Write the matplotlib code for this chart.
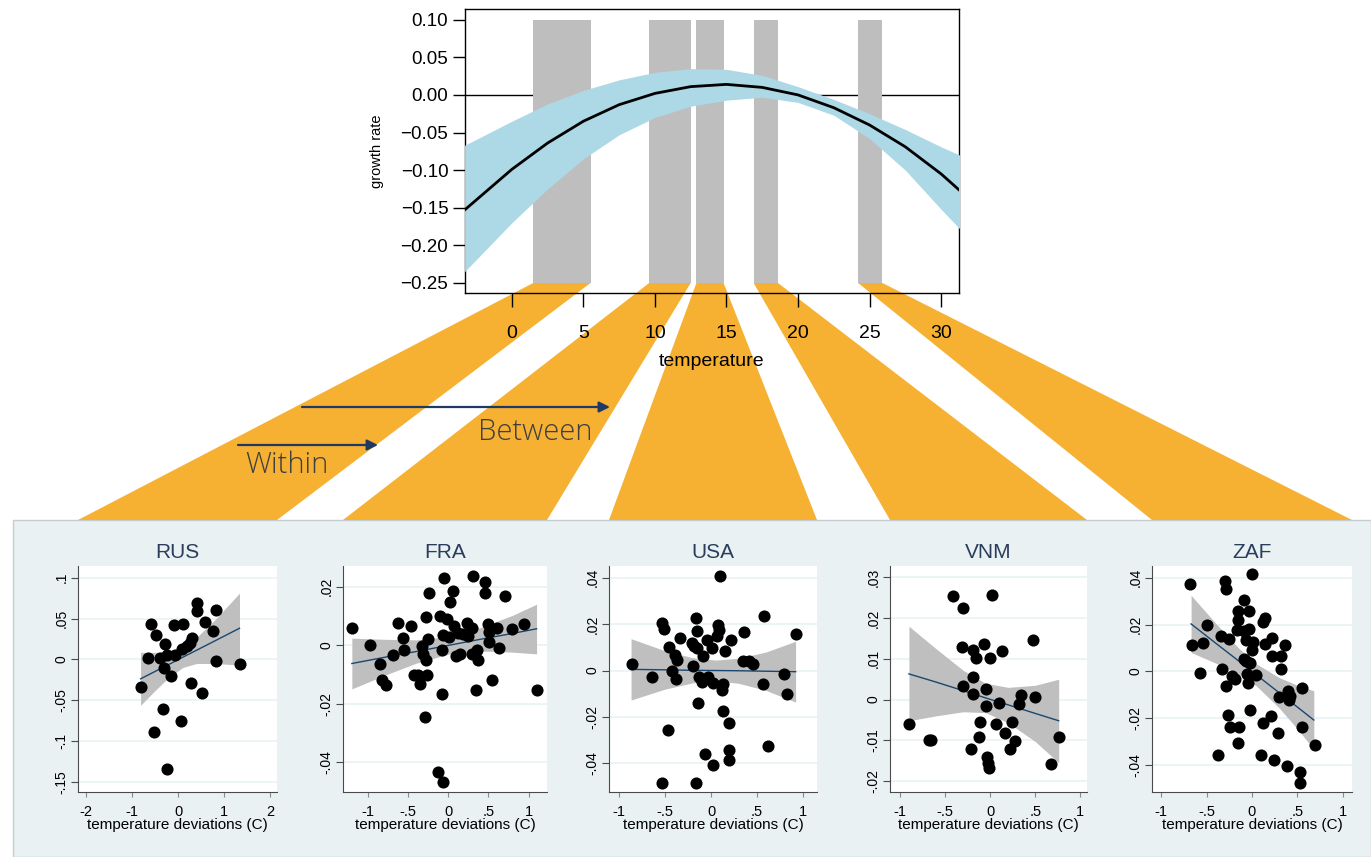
import matplotlib
matplotlib.use("Agg")
import matplotlib.pyplot as plt
from matplotlib.patches import Polygon, Rectangle, FancyArrowPatch

plt.rcParams['font.family'] = ['Liberation Sans', 'DejaVu Sans']

# --- global response function (top panel) ---
temp = [-3.3, 0, 2.5, 5, 7.5, 10, 12.5, 15, 17.5, 20, 22.5, 25, 27.5, 30, 31.3]
growth = [-0.153, -0.099, -0.064, -0.035, -0.013, 0.002, 0.011, 0.014, 0.010,
          0.000, -0.017, -0.040, -0.069, -0.105, -0.127]
growth_hi = [-0.067, -0.035, -0.012, 0.006, 0.020, 0.030, 0.035, 0.034, 0.026,
             0.011, -0.006, -0.025, -0.046, -0.069, -0.080]
growth_lo = [-0.235, -0.170, -0.125, -0.085, -0.053, -0.030, -0.015, -0.007, -0.003,
             -0.010, -0.027, -0.058, -0.100, -0.152, -0.178]

# temperature ranges of the five countries (left, right)
country_ranges = [(1.5, 5.5), (9.6, 12.5), (12.9, 14.8), (16.9, 18.6), (24.2, 25.9)]
top_xticks = [0, 5, 10, 15, 20, 25, 30]
top_yticks = [0.10, 0.05, 0.00, -0.05, -0.10, -0.15, -0.20, -0.25]

# --- country panels: (deviation, growth) points ---
countries = ['RUS', 'FRA', 'USA', 'VNM', 'ZAF']

rus_points = [(-0.80, -0.0332), (-0.60, 0.0439), (-0.65, 0.0016), (-0.49, 0.0303),
              (-0.29, 0.0189), (-0.40, 0.0016), (-0.25, 0.0057), (-0.31, -0.0107),
              (-0.15, -0.0209), (-0.07, 0.0057), (-0.09, 0.0418), (0.11, 0.0439),
              (0.09, 0.0127), (0.18, 0.0160), (0.25, 0.0201), (0.29, 0.0262),
              (0.28, -0.0283), (0.40, 0.0693), (0.40, 0.0590), (0.51, -0.0414),
              (0.58, 0.0455), (0.76, 0.0344), (0.82, 0.0602), (0.82, -0.0025),
              (1.33, -0.0053), (-0.34, -0.0611), (-0.53, -0.0885), (0.06, -0.0754),
              (-0.25, -0.1336)]
fra_points = [(-1.20, 0.0057), (-0.97, 0.0002), (-0.85, -0.0066), (-0.82, -0.0120),
              (-0.77, -0.0138), (-0.69, -0.0034), (-0.63, 0.0077), (-0.56, 0.0025),
              (-0.55, -0.0015), (-0.46, 0.0067), (-0.43, -0.0103), (-0.375, -0.0103),
              (-0.35, -0.0133), (-0.33, -0.0003), (-0.31, -0.0032), (-0.28, -0.0050),
              (-0.28, 0.0096), (-0.27, -0.0103), (-0.29, -0.0247), (-0.24, 0.0180),
              (-0.25, 0.0020), (-0.10, 0.0100), (-0.08, -0.0017), (-0.08, -0.0166),
              (-0.06, 0.0033), (-0.05, 0.0230), (-0.125, -0.0435), (-0.06, -0.0470),
              (-0.01, 0.0090), (0.01, 0.0029), (0.02, 0.0147), (0.06, 0.0187),
              (0.07, 0.0067), (0.10, -0.0038), (0.125, 0.0042), (0.15, -0.0029),
              (0.19, 0.0037), (0.24, 0.0077), (0.25, 0.0031), (0.29, -0.0029),
              (0.30, 0.0057), (0.31, 0.0237), (0.34, -0.0152), (0.36, -0.0017),
              (0.375, -0.0051), (0.46, 0.0216), (0.46, 0.0180), (0.50, 0.0074),
              (0.51, 0.0045), (0.51, 0.0011), (0.54, -0.0120), (0.61, 0.0057),
              (0.63, -0.0009), (0.71, 0.0168), (0.79, 0.0054), (0.94, 0.0073),
              (1.10, -0.0152)]
usa_points = [(-0.865, 0.0027), (-0.64, -0.0030), (-0.53, 0.0205), (-0.51, 0.0180),
              (-0.465, -0.0254), (-0.455, 0.0101), (-0.42, 0.0000), (-0.39, 0.0068),
              (-0.38, -0.0038), (-0.37, 0.0046), (-0.34, 0.0140), (-0.21, 0.0118),
              (-0.20, 0.0020), (-0.16, 0.0227), (-0.156, 0.0169), (-0.156, 0.0097),
              (-0.14, -0.0139), (-0.127, -0.0030), (-0.10, -0.0048), (-0.09, 0.0064),
              (-0.065, -0.0360), (-0.047, 0.0133), (-0.036, -0.0026), (0.007, 0.0097),
              (0.025, -0.0055), (0.025, -0.0406), (0.062, 0.0150), (0.08, 0.0198),
              (0.087, 0.0176), (0.098, 0.0407), (0.116, -0.0084), (0.127, -0.0059),
              (0.127, -0.0175), (0.156, 0.0082), (0.20, -0.0228), (0.20, -0.0341),
              (0.20, -0.0387), (0.215, 0.0133), (0.36, 0.0165), (0.353, 0.0042),
              (0.41, 0.0039), (0.455, 0.0029), (0.58, 0.0234), (0.57, -0.0058),
              (0.62, -0.0326), (0.79, -0.0014), (0.83, -0.0103), (0.92, 0.0159),
              (-0.53, -0.0484), (-0.164, -0.0484), (-0.19, 0.0104)]
vnm_points = [(-0.90, -0.0060), (-0.674, -0.0099), (-0.655, -0.0099), (-0.41, 0.0255),
              (-0.296, 0.0225), (-0.307, 0.0130), (-0.30, 0.0033), (-0.215, -0.0121),
              (-0.193, 0.0122), (-0.159, 0.0101), (-0.185, 0.0055), (-0.193, 0.0014),
              (-0.11, -0.0056), (-0.122, -0.0092), (-0.067, 0.0137), (-0.048, 0.0025),
              (-0.048, -0.0016), (-0.037, -0.0141), (-0.026, -0.0155), (-0.011, -0.0168),
              (0.0, 0.0101), (0.026, 0.0257), (0.063, -0.0061), (0.10, -0.0009),
              (0.13, 0.0119), (0.167, -0.0083), (0.215, -0.0121), (0.24, -0.0056),
              (0.28, -0.0102), (0.315, -0.0011), (0.34, 0.0012), (0.474, 0.0146),
              (0.50, 0.0006), (0.678, -0.0158), (0.76, -0.0092)]
zaf_points = [(-0.68, 0.0375), (-0.66, 0.0114), (-0.544, 0.0123), (-0.496, 0.0198),
              (-0.577, -0.0007), (-0.379, -0.0355), (-0.338, 0.0152), (-0.33, 0.0010),
              (-0.30, 0.0386), (-0.283, 0.0350), (-0.283, -0.0062), (-0.265, -0.0185),
              (-0.257, 0.0140), (-0.246, -0.0235), (-0.22, -0.0019), (-0.184, -0.0033),
              (-0.165, 0.0179), (-0.158, 0.0256), (-0.154, 0.0220), (-0.158, -0.0303),
              (-0.147, -0.0235), (-0.085, 0.0306), (-0.085, 0.0172), (-0.092, 0.0053),
              (-0.066, 0.0133), (-0.066, 0.0046), (-0.055, -0.0012), (-0.048, -0.0048),
              (-0.037, 0.0256), (-0.029, 0.0183), (-0.026, 0.0035), (-0.018, -0.0166),
              (0.0, 0.0414), (0.007, 0.0126), (0.0, 0.0090), (0.048, -0.0014),
              (0.099, -0.0355), (0.118, -0.0221), (0.125, 0.0212), (0.147, 0.0227),
              (0.14, 0.0116), (0.21, -0.0189), (0.22, 0.0144), (0.22, 0.0068),
              (0.239, -0.0377), (0.287, -0.0261), (0.294, -0.0108), (0.324, 0.0068),
              (0.32, 0.0010), (0.36, 0.0114), (0.386, -0.0401), (0.397, -0.0084),
              (0.404, -0.0120), (0.415, -0.0103), (0.533, -0.0430), (0.533, -0.0474),
              (0.555, -0.0069), (0.551, -0.0235), (0.69, -0.0312)]

# linear fits with confidence bands: x, fit, lower, upper
rus_fit = ([-0.82, -0.5, -0.2, 0.1, 0.4, 0.8, 1.33],
           [-0.0238, -0.0146, -0.0060, 0.0027, 0.0113, 0.0228, 0.0381],
           [-0.0562, -0.0378, -0.0218, -0.0098, -0.0050, -0.0050, -0.0070],
           [0.0086, 0.0086, 0.0098, 0.0152, 0.0271, 0.0487, 0.0811])
fra_fit = ([-1.2, -0.8, -0.4, 0.0, 0.4, 0.8, 1.1],
           [-0.0063, -0.0042, -0.0022, -0.0001, 0.0020, 0.0040, 0.0056],
           [-0.0150, -0.0104, -0.0062, -0.0031, -0.0020, -0.0024, -0.0030],
           [0.0024, 0.0020, 0.0018, 0.0029, 0.0060, 0.0102, 0.0140])
usa_fit = ([-0.87, -0.5, -0.2, 0.05, 0.3, 0.6, 0.92],
           [0.0005, 0.0003, 0.0001, 0.0, -0.0001, -0.0003, -0.0005],
           [-0.0127, -0.0080, -0.0053, -0.0045, -0.0055, -0.0086, -0.0136],
           [0.0137, 0.0085, 0.0055, 0.0045, 0.0053, 0.0080, 0.0126])
vnm_fit = ([-0.9, -0.6, -0.3, -0.05, 0.2, 0.5, 0.76],
           [0.0063, 0.0043, 0.0022, 0.0004, -0.0013, -0.0034, -0.0052],
           [-0.0052, -0.0040, -0.0030, -0.0032, -0.0057, -0.0103, -0.0155],
           [0.0180, 0.0125, 0.0072, 0.0040, 0.0030, 0.0035, 0.0050])
zaf_fit = ([-0.67, -0.4, -0.15, 0.05, 0.3, 0.5, 0.68],
           [0.0203, 0.0121, 0.0046, -0.0015, -0.0091, -0.0152, -0.0207],
           [0.0081, 0.0036, -0.0009, -0.0062, -0.0156, -0.0245, -0.0332],
           [0.0325, 0.0206, 0.0101, 0.0032, -0.0026, -0.0059, -0.0082])

points = [rus_points, fra_points, usa_points, vnm_points, zaf_points]
fits = [rus_fit, fra_fit, usa_fit, vnm_fit, zaf_fit]
xticks = [[-2, -1, 0, 1, 2], [-1, -0.5, 0, 0.5, 1], [-1, -0.5, 0, 0.5, 1],
          [-1, -0.5, 0, 0.5, 1], [-1, -0.5, 0, 0.5, 1]]
yticks = [[-0.15, -0.1, -0.05, 0, 0.05, 0.1], [-0.04, -0.02, 0, 0.02],
          [-0.04, -0.02, 0, 0.02, 0.04], [-0.02, -0.01, 0, 0.01, 0.02, 0.03],
          [-0.04, -0.02, 0, 0.02, 0.04]]

# layout (pixels) and axis ranges
W, H = 1371, 857
panel_top = 520
small_boxes = [(78, 277), (343, 547), (609, 817), (890, 1087), (1152, 1352)]
small_xlims = [(-2.18, 2.145), (-1.31, 1.23), (-1.11, 1.153), (-1.11, 1.074), (-1.10, 1.10)]
small_ylims = [(-0.1623, 0.1143), (-0.0503, 0.0271), (-0.0523, 0.045),
               (-0.0227, 0.0328), (-0.0514, 0.045)]

ORANGE = '#f6b133'
NAVY = '#1f3864'


def fig_box(left, right, top, bottom):
    return [left / W, 1 - bottom / H, (right - left) / W, (bottom - top) / H]


def stata_label(v):
    s = f"{v:g}"
    return s.replace("0.", ".")


fig = plt.figure(figsize=(W / 100, H / 100), dpi=100)

# lower panel background
fig.add_artist(Rectangle((13 / W, 0), 1 - 13 / W, (H - panel_top) / H,
                         transform=fig.transFigure, facecolor='#e9f1f3',
                         edgecolor='#c5cdd0', lw=1, zorder=-3))

# top: growth rate vs temperature
ax = fig.add_axes(fig_box(465, 959, 9, 293))
ax.set_facecolor('none')
ax.set_xlim(-3.27, 31.25)
ax.set_ylim(-0.2633, 0.1142)
ax.axhline(0, color='black', lw=1, zorder=1)
for lo, hi in country_ranges:
    ax.bar(lo, 0.35, width=hi - lo, bottom=-0.25, align='edge',
           color='#bebebe', zorder=2)
ax.fill_between(temp, growth_lo, growth_hi, color='#add8e6', lw=0, zorder=3)
ax.plot(temp, growth, color='black', lw=2, zorder=4)
ax.set_xticks(top_xticks)
ax.set_yticks(top_yticks)
ax.set_yticklabels([f"{v:.2f}".replace('-', '\u2212') for v in top_yticks])
ax.tick_params(axis='x', length=10, width=1, pad=13, labelsize=14)
ax.tick_params(axis='y', length=9, width=1, pad=3, labelsize=13.5)
for sp in ax.spines.values():
    sp.set_linewidth(1)
ax.set_xlabel('temperature', fontsize=14, labelpad=8)
ax.set_ylabel('growth rate', fontsize=10.5, labelpad=12)

# country panels
small_axes = []
for i, name in enumerate(countries):
    l, r = small_boxes[i]
    sa = fig.add_axes(fig_box(l, r, 566, 792))
    sa.set_facecolor('white')
    sa.set_xlim(*small_xlims[i])
    sa.set_ylim(*small_ylims[i])
    fx, fy, flo, fhi = fits[i]
    sa.fill_between(fx, flo, fhi, color='#bfbfbf', lw=0, zorder=2)
    sa.plot(fx, fy, color='#1a476f', lw=1, zorder=3)
    px = [p[0] for p in points[i]]
    py = [p[1] for p in points[i]]
    sa.scatter(px, py, s=76, color='black', lw=0, zorder=4)
    sa.set_xticks(xticks[i])
    sa.set_xticklabels([stata_label(v) for v in xticks[i]])
    sa.set_yticks(yticks[i])
    sa.set_yticklabels([stata_label(v) for v in yticks[i]], rotation=90, va='center')
    sa.yaxis.grid(True, color='#eaf2f3', lw=1.2)
    sa.set_axisbelow(True)
    for side in ('top', 'right'):
        sa.spines[side].set_visible(False)
    for side in ('left', 'bottom'):
        sa.spines[side].set_color('#4a4a4a')
        sa.spines[side].set_linewidth(0.8)
    sa.tick_params(axis='y', length=5, width=0.8, color='#4a4a4a', pad=2, labelsize=10)
    sa.tick_params(axis='x', length=3.5, width=0.8, color='#8a8a8a', pad=6, labelsize=10.5)
    sa.set_title(name, fontsize=15, color='#2a3d5c', pad=6)
    sa.set_xlabel('temperature deviations (C)', fontsize=11, labelpad=-1)
    small_axes.append(sa)

# orange connectors from each temperature range to its country panel
to_fig = fig.transFigure.inverted()
foot_y = 1 - panel_top / H
for (lo, hi), sa in zip(country_ranges, small_axes):
    tl = to_fig.transform(ax.transData.transform((lo, -0.25)))
    tr = to_fig.transform(ax.transData.transform((hi, -0.25)))
    pos = sa.get_position()
    fig.add_artist(Polygon([tl, tr, (pos.x1, foot_y), (pos.x0, foot_y)], closed=True,
                           transform=fig.transFigure, facecolor=ORANGE,
                           edgecolor='none', zorder=-1))

# within / between arrows
for (x0, x1, y), label, (tx, ty) in [((302, 610, 407), 'Between', (478, 432)),
                                      ((238, 378, 445), 'Within', (245, 465))]:
    fig.add_artist(FancyArrowPatch((x0 / W, 1 - y / H), (x1 / W, 1 - y / H),
                                   transform=fig.transFigure, arrowstyle='-|>',
                                   mutation_scale=16, lw=1.6, color=NAVY,
                                   shrinkA=0, shrinkB=0))
    fig.text(tx / W, 1 - ty / H, label, fontsize=21, family=['Open Sans', 'DejaVu Sans'],
             fontweight='light', color='#3f3f3f', ha='left', va='center')

fig.savefig('out.png', dpi=100)
